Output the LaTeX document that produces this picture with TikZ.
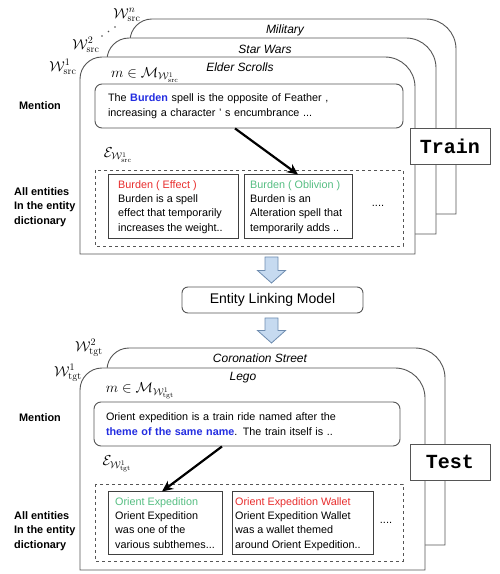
\documentclass[tikz,border=0pt]{standalone}
\usepackage[no-math]{fontspec}
\setmainfont{Liberation Sans}
\setmonofont{Liberation Mono}
\usetikzlibrary{arrows.meta}
\definecolor{bluetxt}{RGB}{35,45,225}
\definecolor{redtxt}{RGB}{232,45,45}
\definecolor{greentxt}{RGB}{85,190,130}
\definecolor{linegray}{RGB}{85,85,85}
\definecolor{arrowfill}{RGB}{198,218,240}
\definecolor{arrowdraw}{RGB}{110,140,175}
\newcommand\cardshape[4]{%
  \draw[cardline] (#1,#4) -- (#1,#2-22) arc[start angle=180,end angle=90,radius=22pt]
   -- (#3-30,#2) arc[start angle=90,end angle=0,radius=30pt] -- (#3,#4) -- cycle;}
\newcommand\blockarrow[3]{% x center, top Y, tip Y
  \draw[blockarr] (#1-6.5,#2) -- (#1+6.5,#2) -- (#1+6.5,#3+12.5) -- (#1+14,#3+12.5)
   -- (#1,#3) -- (#1-14,#3+12.5) -- (#1-6.5,#3+12.5) -- cycle;}
\tikzset{
  cardline/.style={draw=linegray, line width=0.9pt, fill=white},
  mentionbox/.style={draw=linegray, rounded corners=7pt, line width=0.9pt, fill=white,
     align=left, inner xsep=0pt, font=\fontsize{10.8}{14.5}\selectfont},
  entbox/.style={draw=black!75, line width=1pt, fill=white, inner sep=0pt},
  enttext/.style={align=left, inner sep=0pt, anchor=north west, font=\fontsize{10.8}{14.2}\selectfont},
  dashbox/.style={draw=linegray, dashed, line width=0.9pt},
  tagbox/.style={draw=linegray, fill=white, line width=0.9pt, minimum width=80pt,
     minimum height=36pt, inner sep=0pt, font=\fontsize{20}{20}\selectfont\ttfamily\bfseries},
  titletext/.style={font=\fontsize{12}{14}\selectfont\itshape, inner sep=0pt},
  mathlbl/.style={font=\fontsize{14}{16}\selectfont, inner sep=0pt},
  sidelbl/.style={font=\fontsize{10.9}{14.2}\selectfont\bfseries, align=left, inner sep=0pt},
  linkarrow/.style={line width=2.2pt, -{Stealth[length=11pt,width=10pt]}},
  blockarr/.style={draw=arrowdraw, fill=arrowfill, line width=0.8pt},
  elmbox/.style={draw=linegray, rounded corners=6pt, line width=0.9pt, minimum width=181pt,
     minimum height=26pt, font=\fontsize{14}{16}\selectfont},
  dotsnode/.style={font=\fontsize{11}{13}\selectfont, inner sep=0pt}
}
\begin{document}
\begin{tikzpicture}[x=1pt,y=1pt]
\useasboundingbox (0,0) rectangle (500,574);
% ===================== TRAIN =====================
\cardshape{130}{555}{456}{360}
\cardshape{107}{536}{436}{340}
\cardshape{80}{517}{415}{320}
\node[titletext] (tMil) at (285,544) {Military};
\node[titletext] (tSW) at (265,525) {Star Wars};
\node[titletext] (tES) at (240,507) {Elder Scrolls};
\node[mathlbl] (wn) at (127,559) {$\mathcal{W}^{n}_{\mathrm{src}}$};
\node[mathlbl] (w2) at (86,529) {$\mathcal{W}^{2}_{\mathrm{src}}$};
\node[mathlbl] (w1) at (63,507) {$\mathcal{W}^{1}_{\mathrm{src}}$};
\fill[black!70] (102,538) circle (0.8pt) (108.5,542.5) circle (0.8pt) (115,547) circle (0.8pt);
\node[mathlbl] (mA) at (145,499) {$m\in\mathcal{M}_{\mathcal{W}^{1}_{\mathrm{src}}}$};
\node[mentionbox, minimum width=308pt, minimum height=44pt, text width=282pt, inner xsep=13pt]
  (menboxA) at (249,468) {The \textcolor{bluetxt}{\bfseries Burden} spell is the opposite of Feather ,\\
  increasing a character ' s encumbrance ...};
\node[mathlbl] (eA) at (118,419) {$\mathcal{E}_{\mathcal{W}^{1}_{\mathrm{src}}}$};
\draw[dashbox] (95,404) rectangle (403,328);
\node[entbox, minimum width=130pt, minimum height=64pt] (entA1) at (173,367) {};
\node[entbox, minimum width=108pt, minimum height=64pt] (entA2) at (298,367) {};
\node[enttext] (entA1t) at (118,393.5) {\textcolor{redtxt}{Burden ( Effect )}\\Burden is a spell\\effect that temporarily\\increases the weight..};
\node[enttext] (entA2t) at (250,393.5) {\textcolor{greentxt}{Burden ( Oblivion )}\\Burden is an\\Alteration spell that\\temporarily adds ..};
\node[dotsnode] (dotsA) at (378,368) {....};
\draw[linkarrow] ([xshift=-14pt]menboxA.south) -- (entA2.north);
\node[sidelbl] (menlblA) at (40,468) {Mention};
\node[sidelbl, anchor=west] (alllblA) at (14,367) {All entities\\In the entity\\dictionary};
\node[tagbox] (trainbox) at (450,428) {Train};
% ===================== MIDDLE =====================
\blockarrow{271.5}{317}{291}
\node[elmbox] (elm) at (272.5,274) {Entity Linking Model};
\blockarrow{271.5}{256}{231}
% ===================== TEST =====================
\cardshape{107}{226}{445}{29}
\cardshape{80}{206}{425}{4}
\node[titletext] (tCS) at (260,216) {Coronation Street};
\node[titletext] (tLego) at (243,196) {Lego};
\node[mathlbl] (wt2) at (89,226) {$\mathcal{W}^{2}_{\mathrm{tgt}}$};
\node[mathlbl] (wt1) at (68,201) {$\mathcal{W}^{1}_{\mathrm{tgt}}$};
\node[mathlbl] (mB) at (140,183) {$m\in\mathcal{M}_{\mathcal{W}^{1}_{\mathrm{tgt}}}$};
\node[mentionbox, minimum width=306pt, minimum height=44pt, text width=282pt, inner xsep=12pt, xshift=12pt]
  (menboxB) at (235,150) {Orient expedition is a train ride named after the\\
  \textcolor{bluetxt}{\bfseries theme of the same name}. The train itself is ..};
\node[mathlbl] (eB) at (117,110) {$\mathcal{E}_{\mathcal{W}^{1}_{\mathrm{tgt}}}$};
\draw[dashbox] (95,90) rectangle (403,13);
\node[entbox, minimum width=114pt, minimum height=63pt] (entB1) at (165,50.5) {};
\node[entbox, minimum width=141pt, minimum height=63pt] (entB2) at (302.5,50.5) {};
\node[enttext] (entB1t) at (115,76.5) {\textcolor{greentxt}{Orient Expedition}\\Orient Expedition\\was one of the\\various subthemes...};
\node[enttext] (entB2t) at (235,76.5) {\textcolor{redtxt}{Orient Expedition Wallet}\\Orient Expedition Wallet\\was a wallet themed\\around Orient Expedition..};
\node[dotsnode] (dotsB) at (386,51) {....};
\draw[linkarrow] ([xshift=-25pt]menboxB.south) -- ([xshift=-3pt]entB1.north);
\node[sidelbl] (menlblB) at (40,156) {Mention};
\node[sidelbl, anchor=west] (alllblB) at (14,43) {All entities\\In the entity\\dictionary};
\node[tagbox] (testbox) at (450,112) {Test};
\end{tikzpicture}
\end{document}
